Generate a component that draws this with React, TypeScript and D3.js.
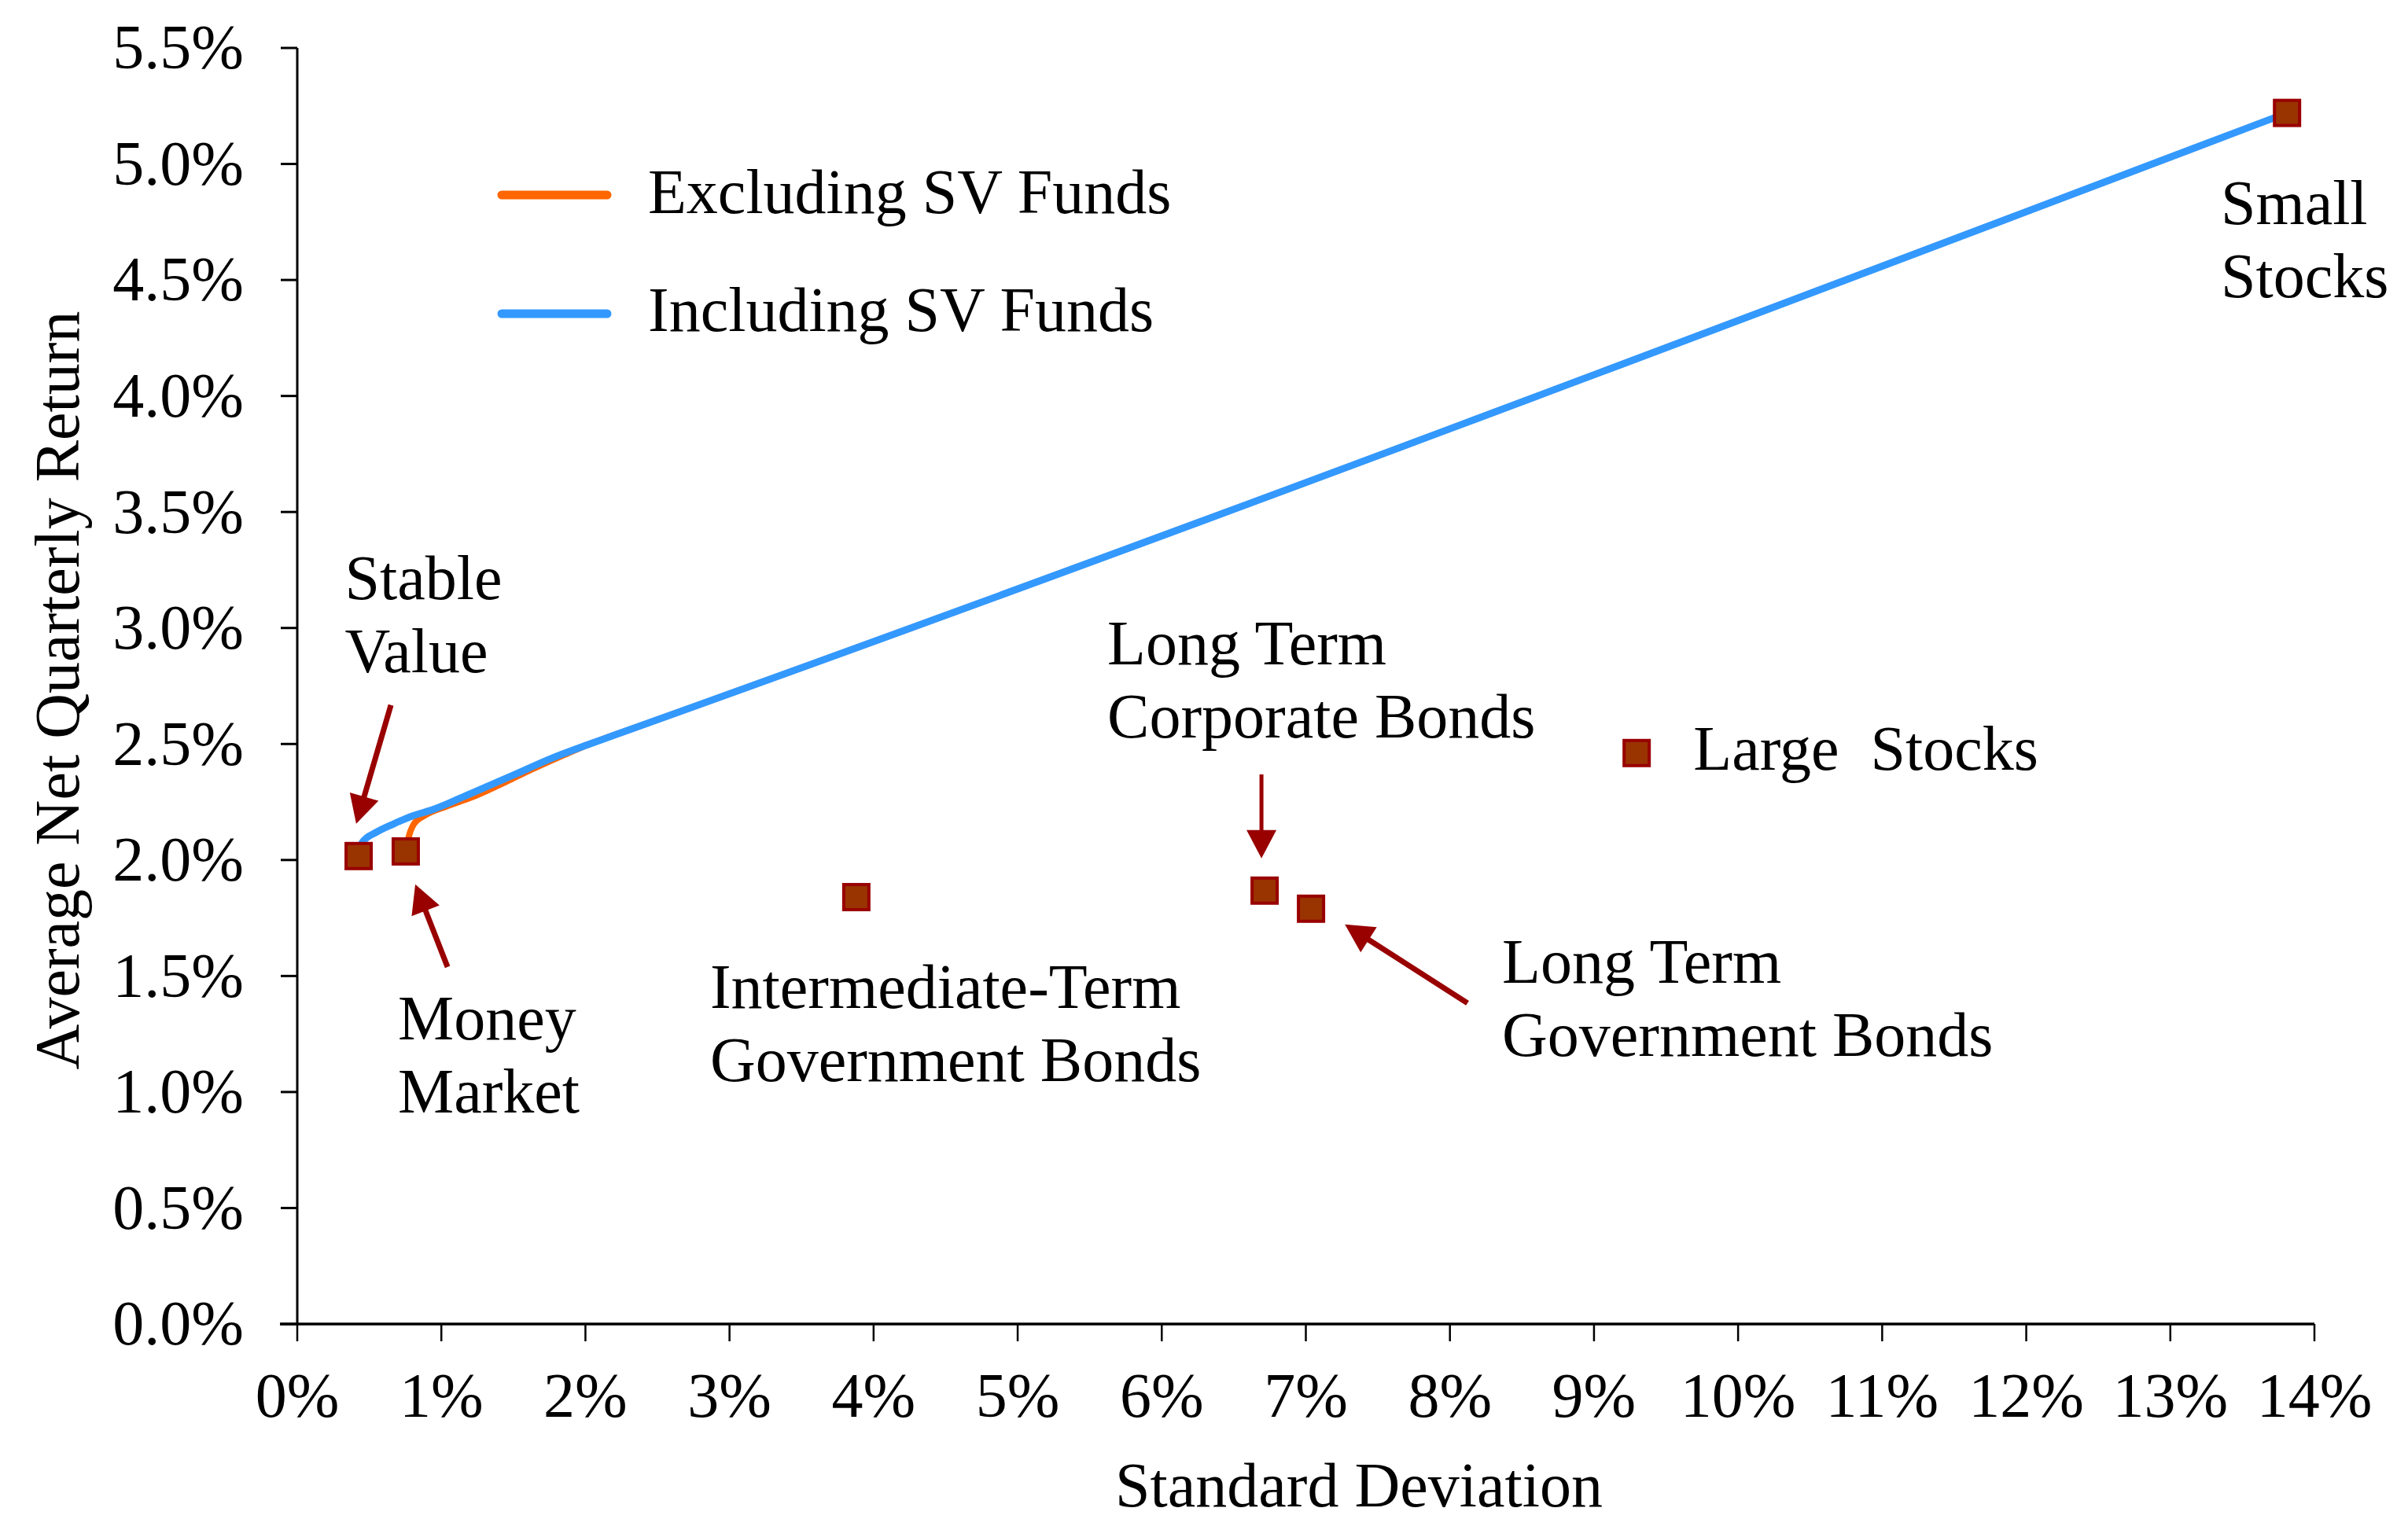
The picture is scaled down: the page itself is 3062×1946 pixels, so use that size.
import React from "react";
import * as d3 from "d3";

// ---- data ----
const assetNames = [
  "Stable Value",
  "Money Market",
  "Intermediate-Term Government Bonds",
  "Long Term Corporate Bonds",
  "Long Term Government Bonds",
  "Large Stocks",
  "Small Stocks",
];
const assetSd = [0.426, 0.753, 3.88, 6.714, 7.036, 9.296, 13.81];
const assetRet = [2.017, 2.037, 1.84, 1.868, 1.79, 2.461, 5.22];

// efficient frontiers (x = std dev %, y = return %)
const exclSd = [0.755, 0.77, 0.81, 0.88, 1.03, 1.21, 1.39, 1.575, 1.85, 2.03, 2.3, 13.81];
const exclRet = [2.04, 2.09, 2.156, 2.19, 2.23, 2.27, 2.32, 2.375, 2.452, 2.5, 2.56, 5.22];
const inclSd = [0.43, 0.45, 0.55, 0.67, 0.8, 0.94, 1.21, 1.49, 1.76, 2.03, 2.3, 13.81];
const inclRet = [2.02, 2.075, 2.12, 2.156, 2.19, 2.217, 2.288, 2.363, 2.437, 2.5, 2.56, 5.22];

const seriesNames = ["Excluding SV Funds", "Including SV Funds"];
const xTicks = d3.range(0, 15, 1);
const yTicks = d3.range(0, 5.51, 0.5);

// annotation labels: lines, left x (sd %), first baseline (ret %)
const labelLines = [
  ["Stable", "Value"],
  ["Money", "Market"],
  ["Intermediate-Term", "Government Bonds"],
  ["Long Term", "Corporate Bonds"],
  ["Long Term", "Government Bonds"],
  ["Large  Stocks"],
  ["Small", "Stocks"],
];
const labelSd = [0.33, 0.699, 2.865, 5.622, 8.362, 9.69, 13.35];
const labelRet = [3.125, 1.227, 1.363, 2.844, 1.471, 2.39, 4.74];

// arrows: tail -> tip in data units
const arrowTailSd = [0.65, 1.043, 6.692, 8.122];
const arrowTailRet = [2.668, 1.539, 2.369, 1.383];
const arrowTipSd = [0.409, 0.819, 6.692, 7.271];
const arrowTipRet = [2.156, 1.895, 2.007, 1.722];
const arrowShaft = [7, 7, 5, 7];

// ---- layout ----
const W = 3062;
const H = 1946;
const FONT = "'Liberation Serif', 'Times New Roman', serif";
const FS = 80;
const LINE_H = 93;

const x = d3.scaleLinear().domain([0, 14]).range([378, 2943]);
const y = d3.scaleLinear().domain([0, 5.5]).range([1684, 61]);

const ORANGE = "#FF6600";
const BLUE = "#3399FF";
const MARK_FILL = "#993300";
const MARK_STROKE = "#990000";
const ARROW = "#990000";

function Arrow({ x1, y1, x2, y2, w }: { x1: number; y1: number; x2: number; y2: number; w: number }) {
  const dx = x2 - x1;
  const dy = y2 - y1;
  const len = Math.sqrt(dx * dx + dy * dy);
  const ux = dx / len;
  const uy = dy / len;
  const headL = 36;
  const headW = 19;
  const bx = x2 - ux * headL;
  const by = y2 - uy * headL;
  const px = -uy;
  const py = ux;
  const pts = [
    [x2, y2],
    [bx + px * headW, by + py * headW],
    [bx - px * headW, by - py * headW],
  ]
    .map((p) => p.join(","))
    .join(" ");
  return (
    <g>
      <line x1={x1} y1={y1} x2={bx + ux * 2} y2={by + uy * 2} stroke={ARROW} strokeWidth={w} />
      <polygon points={pts} fill={ARROW} />
    </g>
  );
}

export default function App() {
  const line = d3
    .line<[number, number]>()
    .x((d) => x(d[0]))
    .y((d) => y(d[1]))
    .curve(d3.curveMonotoneX);

  const excl = exclSd.map((s, i) => [s, exclRet[i]] as [number, number]);
  const incl = inclSd.map((s, i) => [s, inclRet[i]] as [number, number]);

  const fmtY = d3.format(".1f");
  const x0 = x(0);
  const yBase = y(0);
  const M = 32;

  return (
    <svg
      width={W}
      height={H}
      viewBox={`0 0 ${W} ${H}`}
      style={{ position: "absolute", left: 0, top: 0, background: "#fff" }}
      fontFamily={FONT}
    >
      <rect x={0} y={0} width={W} height={H} fill="#fff" />

      {/* y axis */}
      <line x1={x0} y1={y(5.5)} x2={x0} y2={yBase} stroke="#000" strokeWidth={3} />
      {yTicks.map((t) => (
        <g key={"yt" + t}>
          <line x1={x0 - 21} x2={x0} y1={y(t)} y2={y(t)} stroke="#000" strokeWidth={3} />
          <text x={310} y={y(t)} dy="0.33em" textAnchor="end" fontSize={FS} fill="#000">
            {fmtY(t) + "%"}
          </text>
        </g>
      ))}

      {/* x axis */}
      <line x1={x0 - 22} y1={yBase} x2={x(14)} y2={yBase} stroke="#000" strokeWidth={3.5} />
      {xTicks.map((t) => (
        <g key={"xt" + t}>
          <line x1={x(t)} x2={x(t)} y1={yBase} y2={yBase + 22} stroke="#000" strokeWidth={2.5} />
          <text x={x(t)} y={1802} textAnchor="middle" fontSize={FS} fill="#000">
            {t + "%"}
          </text>
        </g>
      ))}

      {/* axis titles */}
      <text x={1728} y={1916} textAnchor="middle" fontSize={FS} fill="#000">
        Standard Deviation
      </text>
      <text
        transform={`translate(100, 878) rotate(-90)`}
        textAnchor="middle"
        fontSize={FS}
        fill="#000"
      >
        Average Net Quarterly Return
      </text>

      {/* frontier lines */}
      <path d={line(excl) || ""} fill="none" stroke={ORANGE} strokeWidth={8} strokeLinejoin="round" />
      <path d={line(incl) || ""} fill="none" stroke={BLUE} strokeWidth={9} strokeLinejoin="round" />

      {/* legend */}
      <line x1={638} x2={772} y1={248} y2={248} stroke={ORANGE} strokeWidth={11} strokeLinecap="round" />
      <text x={824} y={271} fontSize={FS} fill="#000">
        {seriesNames[0]}
      </text>
      <line x1={638} x2={772} y1={399} y2={399} stroke={BLUE} strokeWidth={11} strokeLinecap="round" />
      <text x={824} y={421} fontSize={FS} fill="#000">
        {seriesNames[1]}
      </text>

      {/* arrows */}
      {arrowTailSd.map((s, i) => (
        <Arrow
          key={"ar" + i}
          x1={x(s)}
          y1={y(arrowTailRet[i])}
          x2={x(arrowTipSd[i])}
          y2={y(arrowTipRet[i])}
          w={arrowShaft[i]}
        />
      ))}

      {/* asset markers */}
      {assetNames.map((n, i) => (
        <rect
          key={"m" + n}
          x={x(assetSd[i]) - M / 2}
          y={y(assetRet[i]) - M / 2}
          width={M}
          height={M}
          fill={MARK_FILL}
          stroke={MARK_STROKE}
          strokeWidth={4}
        />
      ))}

      {/* labels */}
      {labelLines.map((lines, i) => (
        <text key={"lb" + i} fontSize={FS} fill="#000" style={{ whiteSpace: "pre" }}>
          {lines.map((ln, j) => (
            <tspan key={j} x={x(labelSd[i])} y={y(labelRet[i]) + j * LINE_H}>
              {ln}
            </tspan>
          ))}
        </text>
      ))}
    </svg>
  );
}
